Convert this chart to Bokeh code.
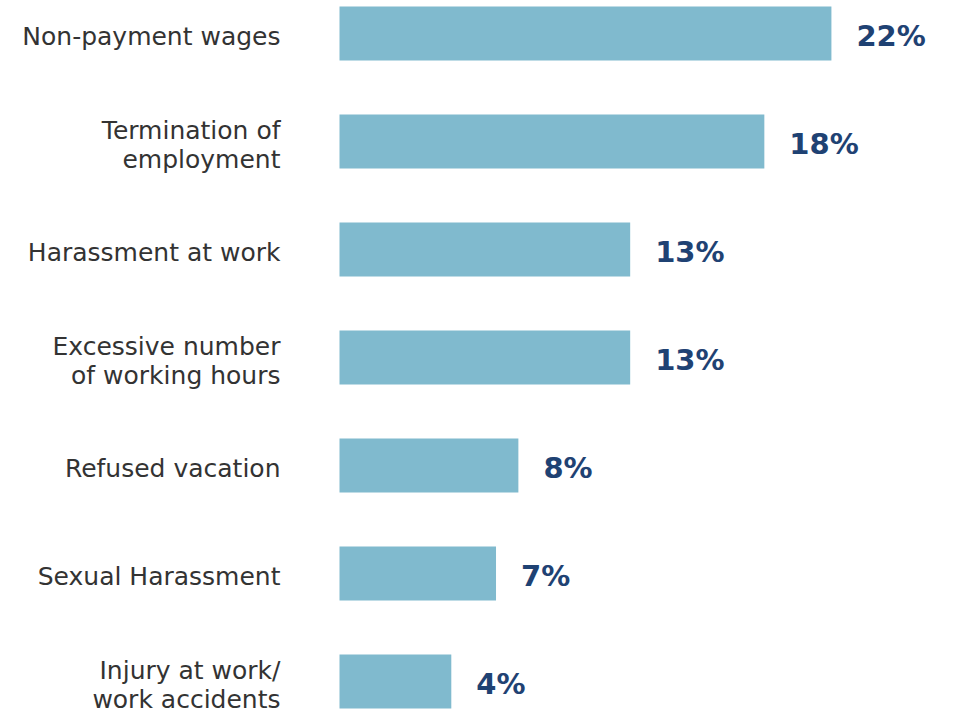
from bokeh.plotting import figure
from bokeh.models import Range1d, ColumnDataSource
from bokeh.core.properties import value
from bokeh.embed import file_html
from bokeh.resources import INLINE

categories = ["Non-payment wages", "Termination of\nemployment", "Harassment at work",
              "Excessive number\nof working hours", "Refused vacation",
              "Sexual Harassment", "Injury at work/\nwork accidents"]
bar_values = [22, 19, 13, 13, 8, 7, 5]
value_labels = ["22%", "18%", "13%", "13%", "8%", "7%", "4%"]
positions = list(range(len(categories)))

src = ColumnDataSource(dict(y=positions, v=bar_values, cat=categories,
                            lab=value_labels, zero=[0] * len(categories)))

px = 22.36
W, H = 953, 716
p = figure(width=W, height=H, output_backend="svg", toolbar_location=None,
           x_range=Range1d(-339 / px, (W - 339) / px),
           y_range=Range1d(6 + (H - 681) / 108, -33 / 108),
           min_border=0, outline_line_color=None)
p.xaxis.visible = False
p.yaxis.visible = False
p.xgrid.visible = False
p.ygrid.visible = False
p.background_fill_color = "white"
p.border_fill_color = "white"

p.hbar(y="y", left="zero", right="v", height=0.5, source=src,
       fill_color="#80BACE", line_color=None)

p.text(x="zero", y="y", text="cat", source=src, x_offset=-59, y_offset=3,
       text_align="right", text_baseline="middle", text_font=value("DejaVu Sans"),
       text_font_size="25px", text_color="#333333", text_line_height=1.0)

p.text(x="v", y="y", text="lab", source=src, x_offset=25, y_offset=2,
       text_align="left", text_baseline="middle", text_font=value("DejaVu Sans"),
       text_font_style="bold", text_font_size="29px", text_color="#1F4273")

open("out.html", "w").write(file_html(p, INLINE))
